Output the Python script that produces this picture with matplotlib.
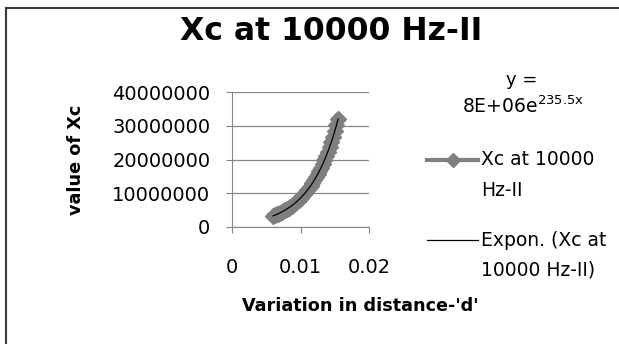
import numpy as np
import matplotlib
matplotlib.use("Agg")
import matplotlib.pyplot as plt
from matplotlib.lines import Line2D

plt.rcParams["font.family"] = ["DejaVu Sans"]

# data
distance = [0.00600, 0.00625, 0.00650, 0.00675, 0.00700, 0.00725, 0.00750,
            0.00775, 0.00800, 0.00825, 0.00850, 0.00875, 0.00900, 0.00925,
            0.00950, 0.00975, 0.01000, 0.01025, 0.01050, 0.01075, 0.01100,
            0.01125, 0.01150, 0.01175, 0.01200, 0.01225, 0.01250, 0.01275,
            0.01300, 0.01325, 0.01350, 0.01375, 0.01400, 0.01425, 0.01450,
            0.01475, 0.01500, 0.01525, 0.01550]
xc_values = [3.30e6, 3.50e6, 3.72e6, 3.95e6, 4.19e6, 4.45e6, 4.72e6,
             5.01e6, 5.32e6, 5.65e6, 6.00e6, 6.37e6, 6.76e6, 7.18e6,
             7.62e6, 8.09e6, 8.59e6, 9.12e6, 9.68e6, 10.28e6, 10.91e6,
             11.58e6, 12.29e6, 13.05e6, 13.86e6, 14.71e6, 15.62e6, 16.58e6,
             17.60e6, 18.69e6, 19.84e6, 21.06e6, 22.36e6, 23.74e6, 25.20e6,
             26.75e6, 28.40e6, 30.15e6, 32.00e6]
y_ticks = [0, 10000000, 20000000, 30000000, 40000000]
x_ticks = [0, 0.01, 0.02]
x_tick_labels = ["0", "0.01", "0.02"]

W, H = 619, 344
fig = plt.figure(figsize=(W / 100, H / 100), dpi=100)
ax = fig.add_axes([232 / W, 1 - 227 / H, (369 - 232) / W, (227 - 92) / H])

grey = "#868686"
series_col = "#7f7f7f"
ax.plot(distance, xc_values, color=series_col, lw=6.5, marker="D", ms=8,
        mec=series_col, mfc=series_col, zorder=3)

# exponential trendline
k, ln_a = np.polyfit(distance, np.log(xc_values), 1)
xs = np.linspace(min(distance), max(distance), 100)
ax.plot(xs, np.exp(ln_a) * np.exp(k * xs), color="black", lw=0.9, zorder=4)

ax.set_xlim(0, 0.02)
ax.set_ylim(0, 40000000)
ax.set_yticks(y_ticks)
ax.set_yticklabels([str(v) for v in y_ticks])
ax.set_xticks(x_ticks)
ax.set_xticklabels(x_tick_labels)
ax.grid(axis="y", color=grey, lw=0.9)
ax.set_axisbelow(True)
for s in ["top", "right"]:
    ax.spines[s].set_visible(False)
for s in ["left", "bottom"]:
    ax.spines[s].set_color(grey)
ax.tick_params(axis="both", colors=grey, labelcolor="black", labelsize=14,
               length=4.5, direction="out")
ax.tick_params(axis="y", pad=11)
ax.tick_params(axis="x", pad=18)

fig.text(331 / W, 1 - 32 / H, "Xc at 10000 Hz-II", ha="center", va="center",
         fontsize=22.7, fontweight="bold")
fig.text(76 / W, 1 - 160 / H, "value of Xc", ha="center", va="center",
         rotation=90, fontsize=12.7, fontweight="bold")
fig.text(242 / W, 1 - 306 / H, "Variation in distance-'d'", ha="left",
         va="center", fontsize=12.7, fontweight="bold")
fig.text(522 / W, 1 - 80 / H, "y =", ha="center", va="center", fontsize=13)
fig.text(523 / W, 1 - 106 / H, r"8E+06e$^{\mathregular{235.5x}}$",
         ha="center", va="center", fontsize=13.5)

# legend drawn by hand to follow the original layout
fig.add_artist(Line2D([427 / W, 478 / W], [1 - 160 / H, 1 - 160 / H],
                      transform=fig.transFigure, color=series_col, lw=3))
fig.add_artist(Line2D([453 / W], [1 - 160 / H], transform=fig.transFigure,
                      marker="D", ms=7.5, color=series_col, lw=0))
fig.add_artist(Line2D([427 / W, 478 / W], [1 - 240 / H, 1 - 240 / H],
                      transform=fig.transFigure, color="black", lw=0.9))
legend_texts = [("Xc at 10000", 160), ("Hz-II", 190),
                ("Expon. (Xc at", 240), ("10000 Hz-II)", 270)]
for txt, yy in legend_texts:
    fig.text(481 / W, 1 - yy / H, txt, ha="left", va="center", fontsize=13.5)

# chart border (only top and left edges fall inside the image)
fig.add_artist(Line2D([6 / W, 1], [1 - 8 / H, 1 - 8 / H],
                      transform=fig.transFigure, color="#3a3a3a", lw=1.5))
fig.add_artist(Line2D([6 / W, 6 / W], [0, 1 - 8 / H],
                      transform=fig.transFigure, color="#3a3a3a", lw=1.5))

fig.savefig("out.png", dpi=100)
plt.close(fig)
